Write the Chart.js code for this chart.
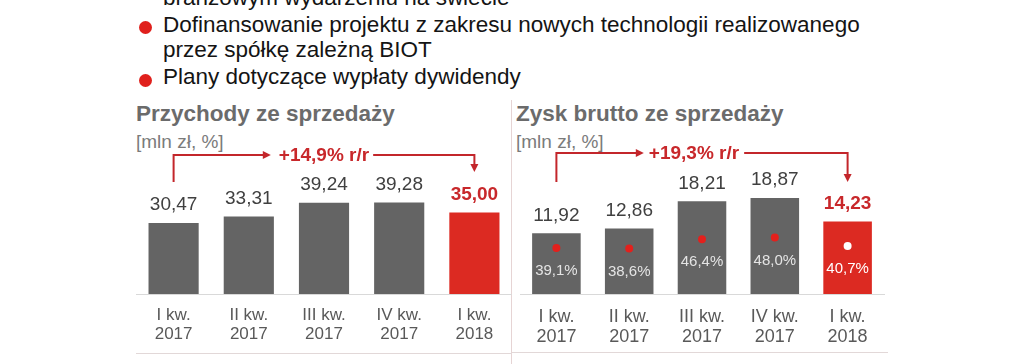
<!DOCTYPE html>
<html>
<head>
<meta charset="utf-8">
<script src="https://cdn.jsdelivr.net/npm/chart.js@4.4.0/dist/chart.umd.min.js"></script>
<style>
    body { margin: 0; width: 1023px; height: 364px; overflow: hidden; background: #fff; position: relative;
           font-family: "Liberation Sans", Arial, sans-serif; }
    .ln { position: absolute; left: 163px; font-size: 22.5px; line-height: 22.5px; color: #141414; white-space: nowrap; }
    .dot { position: absolute; left: 139px; width: 13px; height: 13px; border-radius: 50%; background: #e0201c; }
    .title { position: absolute; top: 103px; font-size: 22.5px; line-height: 22.5px; font-weight: bold; color: #6b6b6b; white-space: nowrap; }
    .unit { position: absolute; top: 132px; font-size: 19px; line-height: 19px; color: #7b7b7b; white-space: nowrap; }
    .sep { position: absolute; left: 511px; top: 100px; width: 1px; height: 264px; background: #e6d4d4; }
    canvas { position: absolute; top: 145px; }
</style>
</head>
<body>
<div class="ln" style="top:-13px">branżowym wydarzeniu na świecie</div>
<div class="dot" style="top:21px"></div>
<div class="ln" style="top:14px">Dofinansowanie projektu z zakresu nowych technologii realizowanego</div>
<div class="ln" style="top:39px">przez spółkę zależną BIOT</div>
<div class="dot" style="top:74px"></div>
<div class="ln" style="top:66px">Plany dotyczące wypłaty dywidendy</div>

<div class="title" style="left:136px">Przychody ze sprzedaży</div>
<div class="unit" style="left:136px">[mln zł, %]</div>
<div class="title" style="left:516px">Zysk brutto ze sprzedaży</div>
<div class="unit" style="left:516px">[mln zł, %]</div>
<div class="sep"></div>

<canvas id="revenue" width="376" height="219" style="left:136px"></canvas>
<canvas id="profit" width="376" height="219" style="left:512px"></canvas>

<script>
// data
const categories = [['I kw.', '2017'], ['II kw.', '2017'], ['III kw.', '2017'], ['IV kw.', '2017'], ['I kw.', '2018']];
const revenue = [30.47, 33.31, 39.24, 39.28, 35.00];
const grossProfit = [11.92, 12.86, 18.21, 18.87, 14.23];
const grossMargin = [39.1, 38.6, 46.4, 48.0, 40.7];
const revenueChange = '+14,9% r/r';
const profitChange = '+19,3% r/r';

const GREY = '#646464';
const RED = '#dc2a22';
const TEXT_RED = '#c8282b';
const ARROW_RED = '#c3262b';
const FONT = '"Liberation Sans", Arial, sans-serif';

const barColors = categories.map((c, i) => i === categories.length - 1 ? RED : GREY);
const fmt = (v, d) => v.toFixed(d).replace('.', ',');

function triangle(ctx, a, b, c) {
    ctx.beginPath();
    ctx.moveTo(a[0], a[1]);
    ctx.lineTo(b[0], b[1]);
    ctx.lineTo(c[0], c[1]);
    ctx.closePath();
    ctx.fill();
}

// labels, yoy arrow and bottom rule
const annotations = {
    id: 'annotations',
    afterDatasetsDraw(chart, args, opts) {
        const ctx = chart.ctx;
        const bars = chart.getDatasetMeta(0);
        const values = chart.data.datasets[0].data;
        ctx.save();
        ctx.textAlign = 'center';
        ctx.textBaseline = 'middle';
        bars.data.forEach((bar, i) => {
            const last = i === values.length - 1;
            ctx.font = (last ? 'bold ' : '') + '19px ' + FONT;
            ctx.fillStyle = last ? TEXT_RED : '#404040';
            ctx.fillText(fmt(values[i], 2), bar.x, bar.y - 18);
        });

        if (chart.data.datasets.length > 1) {
            const pts = chart.getDatasetMeta(1);
            const pv = chart.data.datasets[1].data;
            ctx.font = '15px ' + FONT;
            pts.data.forEach((p, i) => {
                ctx.fillStyle = i === pv.length - 1 ? '#ffffff' : '#e4e4e4';
                ctx.fillText(fmt(pv[i], 1) + '%', p.x, p.y + 23);
            });
        }

        // arrow
        const x1 = bars.data[0].x;
        const x2 = bars.data[bars.data.length - 1].x;
        const tx = (x1 + x2) / 2 + opts.textShift;
        ctx.font = 'bold 19px ' + FONT;
        const w = ctx.measureText(opts.label).width;
        const tl = tx - w / 2 - opts.gapLeft;
        const tr = tx + w / 2 + opts.gapRight;
        ctx.strokeStyle = ARROW_RED;
        ctx.fillStyle = ARROW_RED;
        ctx.lineWidth = 2;
        ctx.beginPath();
        ctx.moveTo(x1, opts.startY);
        ctx.lineTo(x1, opts.topY);
        ctx.lineTo(tl - 6, opts.topY);
        ctx.stroke();
        triangle(ctx, [tl, opts.topY], [tl - 8, opts.topY - 4], [tl - 8, opts.topY + 4]);
        ctx.beginPath();
        ctx.moveTo(tr, opts.topY);
        ctx.lineTo(x2, opts.topY);
        ctx.lineTo(x2, opts.tipY - 6);
        ctx.stroke();
        triangle(ctx, [x2, opts.tipY], [x2 - 4, opts.tipY - 8], [x2 + 4, opts.tipY - 8]);
        ctx.fillStyle = TEXT_RED;
        ctx.fillText(opts.label, tx, opts.topY + 1);

        // bottom rule
        ctx.strokeStyle = '#e2d8d8';
        ctx.lineWidth = 1;
        ctx.beginPath();
        ctx.moveTo(0, opts.ruleY);
        ctx.lineTo(chart.width, opts.ruleY);
        ctx.stroke();
        ctx.restore();
    }
};

function xAxis(size, lh, pad) {
    return {
        grid: { display: false, drawTicks: false },
        border: { display: true, color: '#d9d9d9', width: 1 },
        ticks: {
            color: '#595959',
            font: { family: FONT, size: size, lineHeight: lh / size },
            padding: pad,
            maxRotation: 0,
            autoSkip: false
        },
        afterFit(scale) { scale.height = 55; }
    };
}

new Chart(document.getElementById('revenue').getContext('2d'), {
    type: 'bar',
    data: {
        labels: categories,
        datasets: [{
            data: revenue,
            backgroundColor: barColors,
            categoryPercentage: 1,
            barPercentage: 0.667
        }]
    },
    options: {
        responsive: false,
        animation: false,
        layout: { padding: { left: 0, right: 0, top: 0, bottom: 15 } },
        scales: {
            x: xAxis(17, 19, 11.5),
            y: { display: false, min: 0, max: 64 }
        },
        plugins: {
            legend: { display: false },
            tooltip: { enabled: false },
            annotations: { label: revenueChange, textShift: 0, gapLeft: 8, gapRight: 4, topY: 10, startY: 37, tipY: 27, ruleY: 208.5 }
        }
    },
    plugins: [annotations]
});

new Chart(document.getElementById('profit').getContext('2d'), {
    type: 'bar',
    data: {
        labels: categories,
        datasets: [{
            type: 'bar',
            data: grossProfit,
            backgroundColor: barColors,
            categoryPercentage: 1,
            barPercentage: 0.667,
            order: 1
        }, {
            type: 'line',
            data: grossMargin,
            yAxisID: 'y1',
            showLine: false,
            pointRadius: 4,
            pointBorderWidth: 0,
            pointBackgroundColor: categories.map((c, i) => i === categories.length - 1 ? '#ffffff' : '#e3201c'),
            order: 0
        }]
    },
    options: {
        responsive: false,
        animation: false,
        layout: { padding: { left: 8, right: 1, top: 0, bottom: 15 } },
        scales: {
            x: xAxis(18, 20, 13.5),
            y: { display: false, min: 0, max: 28.5 },
            y1: { display: false, min: 0, max: 123 }
        },
        plugins: {
            legend: { display: false },
            tooltip: { enabled: false },
            annotations: { label: profitChange, textShift: -8, gapLeft: 5, gapRight: 5, topY: 8, startY: 37, tipY: 37, ruleY: 207.5 }
        }
    },
    plugins: [annotations]
});
</script>
</body>
</html>
